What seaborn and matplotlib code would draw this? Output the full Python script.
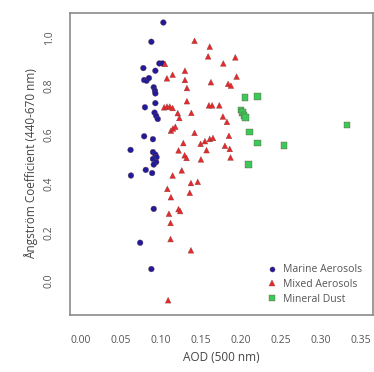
import pandas as pd
import matplotlib
matplotlib.use("Agg")
import matplotlib.pyplot as plt
import seaborn as sns

# values
marine_aod = [0.103, 0.088, 0.098, 0.102, 0.093, 0.078, 0.079, 0.082, 0.085, 0.091,
              0.0925, 0.093, 0.093, 0.080, 0.092, 0.094, 0.096, 0.079, 0.090, 0.062,
              0.090, 0.093, 0.0945, 0.090, 0.094, 0.091, 0.0625, 0.081, 0.089, 0.091,
              0.074, 0.088]
marine_ae = [1.061, 0.982, 0.893, 0.893, 0.863, 0.874, 0.825, 0.822, 0.833, 0.795,
             0.781, 0.770, 0.730, 0.713, 0.691, 0.678, 0.665, 0.594, 0.582, 0.538,
             0.529, 0.519, 0.508, 0.501, 0.488, 0.478, 0.433, 0.456, 0.443, 0.296,
             0.157, 0.049]

mixed_aod = [0.105, 0.1075, 0.1146, 0.130, 0.130, 0.1325, 0.142, 0.161, 0.159, 0.1625,
             0.178, 0.193, 0.1946, 0.184, 0.1875, 0.1325, 0.104, 0.1075, 0.111, 0.1146,
             0.121, 0.123, 0.138, 0.160, 0.164, 0.173, 0.1775, 0.1825, 0.1125, 0.115,
             0.118, 0.142, 0.128, 0.1496, 0.155, 0.161, 0.165, 0.185, 0.180, 0.186,
             0.157, 0.122, 0.1296, 0.132, 0.150, 0.187, 0.126, 0.1146, 0.1375, 0.146,
             0.136, 0.108, 0.1125, 0.122, 0.124, 0.110, 0.112, 0.112, 0.1375, 0.109]
mixed_ae = [0.891, 0.832, 0.847, 0.863, 0.825, 0.792, 0.986, 0.962, 0.922, 0.816,
            0.893, 0.918, 0.839, 0.809, 0.802, 0.738, 0.713, 0.716, 0.716, 0.710,
            0.689, 0.669, 0.690, 0.721, 0.721, 0.721, 0.675, 0.653, 0.617, 0.626,
            0.633, 0.608, 0.566, 0.563, 0.574, 0.583, 0.587, 0.596, 0.555, 0.542,
            0.537, 0.536, 0.516, 0.505, 0.499, 0.507, 0.454, 0.433, 0.402, 0.407,
            0.362, 0.378, 0.344, 0.295, 0.287, 0.276, 0.238, 0.172, 0.126, -0.079]

dust_aod = [0.205, 0.221, 0.200, 0.202, 0.204, 0.2055, 0.211, 0.221, 0.254, 0.2096, 0.3325]
dust_ae = [0.754, 0.758, 0.702, 0.691, 0.680, 0.672, 0.612, 0.566, 0.557, 0.478, 0.641]

groups = ["Marine Aerosols", "Mixed Aerosols", "Mineral Dust"]

df = pd.DataFrame({
    "aod": marine_aod + mixed_aod + dust_aod,
    "ae": marine_ae + mixed_ae + dust_ae,
    "type": [groups[0]] * len(marine_aod) + [groups[1]] * len(mixed_aod) + [groups[2]] * len(dust_aod),
})

sns.set_style("white")
plt.rcParams["font.family"] = ["Open Sans", "DejaVu Sans"]

fig = plt.figure(figsize=(3.74, 3.72), dpi=100)
ax = fig.add_axes([0.187, 0.153, 0.81, 0.812])

palette = {groups[0]: "#1c1c9c", groups[1]: "#e8282a", groups[2]: "#3cc85a"}
markers = {groups[0]: "o", groups[1]: "^", groups[2]: "s"}
sizes = {groups[0]: 17, groups[1]: 17, groups[2]: 22}

sns.scatterplot(data=df, x="aod", y="ae", hue="type", style="type", size="type",
                palette=palette, markers=markers, sizes=sizes, edgecolor="#7a3a3a",
                linewidth=0.25, ax=ax)

ax.set_xlim(-0.0138, 0.365)
ax.set_ylim(-0.14, 1.10)
ax.set_xticks([0.00, 0.05, 0.10, 0.15, 0.20, 0.25, 0.30, 0.35])
ax.set_xticklabels(["0.00", "0.05", "0.10", "0.15", "0.20", "0.25", "0.30", "0.35"])
ax.set_yticks([0.0, 0.2, 0.4, 0.6, 0.8, 1.0])
ax.set_yticklabels(["0.0", "0.2", "0.4", "0.6", "0.8", "1.0"], rotation=90, va="center")

for sp in ax.spines.values():
    sp.set_color("#8a8a8a")
    sp.set_linewidth(1.2)
ax.tick_params(axis="both", direction="out", length=5, width=0.8, color="#999999",
               labelsize=7.5, labelcolor="#555555", pad=6)
ax.tick_params(axis="x", pad=9)

ax.set_xlabel("AOD (500 nm)", fontsize=8.5, color="#444444")
ax.set_ylabel("Ångström Coefficient (440-670 nm)", fontsize=8.5, color="#444444")

leg = ax.legend(loc="lower right", frameon=False, fontsize=7.5, handletextpad=0.1,
                labelspacing=0.35, markerscale=0.9, borderaxespad=0.6)
for t in leg.get_texts():
    t.set_color("#555555")

fig.savefig("out.png", dpi=100)
